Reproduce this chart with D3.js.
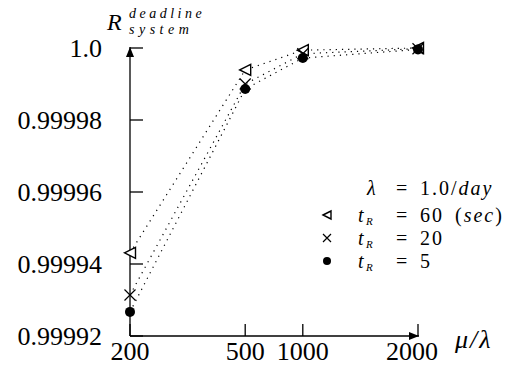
<!DOCTYPE html>
<html>
<head>
<meta charset="utf-8">
<script src="https://cdn.jsdelivr.net/npm/d3@7"></script>
<style>
  body { margin: 0; background: #fff; }
  svg { display: block; }
</style>
</head>
<body>
<svg id="chart" width="528" height="374"></svg>
<script>
// data
const xValues = [200, 500, 1000, 2000];
const xTickLabels = ["200", "500", "1000", "2000"];
const yTicks = [0.99992, 0.99994, 0.99996, 0.99998, 1.0];
const yTickLabels = ["0.99992", "0.99994", "0.99996", "0.99998", "1.0"];
const tR60 = [0.9999431, 0.9999939, 0.9999994, 1.0];
const tR20 = [0.9999314, 0.99999, 0.9999984, 0.9999998];
const tR5 = [0.9999267, 0.9999886, 0.9999972, 0.9999996];

const FONT = "'Liberation Serif', 'DejaVu Serif', serif";

const svg = d3.select("#chart")
  .attr("font-family", FONT);
const margin = { left: 130, top: 48 };
const width = 288;
const height = 288;

// the x axis is not evenly spaced: 200..500 takes two units, 500..1000 one, 1000..2000 two
const x = d3.scaleLinear()
  .domain(xValues)
  .range([0, 2 / 5, 3 / 5, 1].map((f) => margin.left + f * width));
const y = d3.scaleLinear()
  .domain([0.99992, 1.0])
  .range([margin.top + height, margin.top]);

svg.append("defs").append("marker")
  .attr("id", "arrow")
  .attr("viewBox", "0 -5 10 10")
  .attr("refX", 10)
  .attr("refY", 0)
  .attr("markerWidth", 10)
  .attr("markerHeight", 10)
  .attr("markerUnits", "userSpaceOnUse")
  .attr("orient", "auto")
  .append("path")
  .attr("d", "M0,-4L10,0L0,4Z")
  .attr("fill", "#000");

const x0 = x(200);
const y0 = y(0.99992);

function txt(g) {
  return g.append("text")
    .style("font-family", FONT)
    .attr("fill", "#000");
}

// axis lines with arrow heads
svg.append("line")
  .attr("x1", x0).attr("y1", y0)
  .attr("x2", x0).attr("y2", y(1.0) - 1)
  .attr("stroke", "#000").attr("stroke-width", 1.3)
  .attr("marker-end", "url(#arrow)");
svg.append("line")
  .attr("x1", x0).attr("y1", y0)
  .attr("x2", x(2000) + 1).attr("y2", y0)
  .attr("stroke", "#000").attr("stroke-width", 1.3)
  .attr("marker-end", "url(#arrow)");

// y ticks
svg.selectAll(".ytick")
  .data(yTicks)
  .enter()
  .append("line")
  .attr("class", "ytick")
  .attr("x1", x0).attr("x2", x0 + 13)
  .attr("y1", (d) => y(d)).attr("y2", (d) => y(d))
  .attr("stroke", "#000").attr("stroke-width", 1.3);

yTicks.forEach((d, i) => {
  txt(svg)
    .attr("x", 102)
    .attr("y", y(d) + 9)
    .attr("text-anchor", "end")
    .attr("font-size", 26)
    .text(yTickLabels[i]);
});

// x ticks
svg.selectAll(".xtick")
  .data(xValues)
  .enter()
  .append("line")
  .attr("class", "xtick")
  .attr("x1", (d) => x(d)).attr("x2", (d) => x(d))
  .attr("y1", y0).attr("y2", y0 - 12)
  .attr("stroke", "#000").attr("stroke-width", 1.3);

xValues.forEach((d, i) => {
  txt(svg)
    .attr("x", x(d) - (i === 3 ? 6 : 0))
    .attr("y", y0 + 24)
    .attr("text-anchor", "middle")
    .attr("font-size", 26)
    .text(xTickLabels[i]);
});

// axis titles
txt(svg)
  .attr("x", 455).attr("y", 348)
  .attr("font-size", 26)
  .attr("font-style", "italic")
  .attr("letter-spacing", 2)
  .text("μ/λ");

txt(svg)
  .attr("x", 107).attr("y", 30)
  .attr("font-size", 24)
  .attr("font-style", "italic")
  .text("R");
txt(svg)
  .attr("x", 129).attr("y", 17.5)
  .attr("font-size", 14)
  .attr("font-style", "italic")
  .attr("letter-spacing", 3.5)
  .text("deadline");
txt(svg)
  .attr("x", 129).attr("y", 33.5)
  .attr("font-size", 14)
  .attr("font-style", "italic")
  .attr("letter-spacing", 4.5)
  .text("system");

// series
const series = [
  { name: "60", values: tR60, symbol: "triangle" },
  { name: "20", values: tR20, symbol: "cross" },
  { name: "5", values: tR5, symbol: "dot" },
];

const line = d3.line()
  .x((d) => x(d[0]))
  .y((d) => y(d[1]));

series.forEach((s) => {
  svg.append("path")
    .datum(xValues.map((v, i) => [v, s.values[i]]))
    .attr("d", line)
    .attr("fill", "none")
    .attr("stroke", "#000")
    .attr("stroke-width", 1.2)
    .attr("stroke-dasharray", "1.2,5");
});

function drawSymbol(g, symbol, cx, cy, size) {
  if (symbol === "triangle") {
    const h = size;
    g.append("path")
      .attr("d", `M${cx - h / 2},${cy}L${cx + h / 2},${cy - h / 2}L${cx + h / 2},${cy + h / 2}Z`)
      .attr("fill", "#fff")
      .attr("stroke", "#000")
      .attr("stroke-width", 1.4);
  } else if (symbol === "cross") {
    const r = size / 2;
    g.append("path")
      .attr("d", `M${cx - r},${cy - r}L${cx + r},${cy + r}M${cx - r},${cy + r}L${cx + r},${cy - r}`)
      .attr("stroke", "#000")
      .attr("stroke-width", 1.2);
  } else {
    g.append("circle")
      .attr("cx", cx).attr("cy", cy)
      .attr("r", size / 2)
      .attr("fill", "#000");
  }
}

const marks = svg.append("g");
series.forEach((s) => {
  s.values.forEach((v, i) => {
    drawSymbol(marks, s.symbol, x(xValues[i]), y(v), s.symbol === "dot" ? 10 : 11);
  });
});

// legend: pieces placed in columns like the TeX layout
const legend = svg.append("g");
const LF = 20;
txt(legend).attr("x", 367).attr("y", 195).attr("font-size", LF)
  .attr("font-style", "italic").text("λ");
txt(legend).attr("x", 396).attr("y", 195).attr("font-size", LF).text("=");
const lamVal = txt(legend).attr("x", 420).attr("y", 195).attr("font-size", LF)
  .attr("letter-spacing", 2);
lamVal.append("tspan").text("1.0/");
lamVal.append("tspan").attr("font-style", "italic").text("day");

const legendBase = [222, 245, 268];
series.forEach((s, i) => {
  const b = legendBase[i];
  drawSymbol(legend, s.symbol, 327, b - 7, 8);
  txt(legend).attr("x", 358).attr("y", b).attr("font-size", LF)
    .attr("font-style", "italic").text("t");
  txt(legend).attr("x", 366).attr("y", b + 2.5).attr("font-size", 11)
    .attr("font-style", "italic").text("R");
  txt(legend).attr("x", 396).attr("y", b).attr("font-size", LF).text("=");
  txt(legend).attr("x", 420).attr("y", b).attr("font-size", LF)
    .attr("letter-spacing", 2).text(s.name);
  if (s.name === "60") {
    const u = txt(legend).attr("x", 455).attr("y", b).attr("font-size", LF)
      .attr("letter-spacing", 2);
    u.append("tspan").text("(");
    u.append("tspan").attr("font-style", "italic").text("sec");
    u.append("tspan").text(")");
  }
});
</script>
</body>
</html>
